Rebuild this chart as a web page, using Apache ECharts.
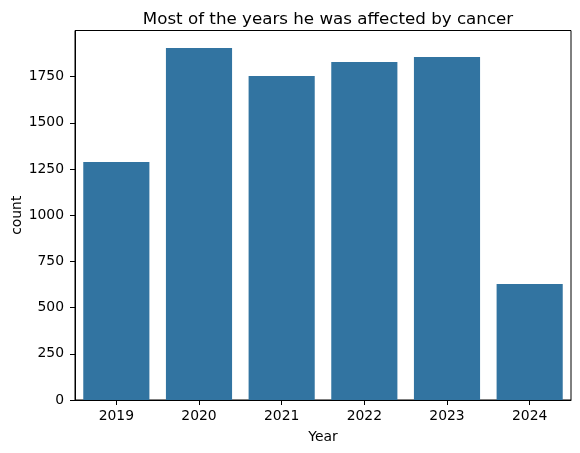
<!DOCTYPE html>
<html>
<head>
<meta charset="utf-8">
<script src="https://cdn.jsdelivr.net/npm/echarts@6/dist/echarts.min.js"></script>
<style>
  html, body { margin: 0; padding: 0; background: #fff; }
  #chart { width: 580px; height: 453px; }
</style>
</head>
<body>
<div id="chart"></div>
<script>
// 年份
const years = ['2019', '2020', '2021', '2022', '2023', '2024']
// 每年数量
const counts = [1288, 1905, 1754, 1829, 1856, 628]
// y轴刻度
const yTicks = [0, 250, 500, 750, 1000, 1250, 1500, 1750]

const chart = echarts.init(document.getElementById('chart'))
const font = 'DejaVu Sans'

const option = {
  animation: false,
  title: {
    text: 'Most of the years he was affected by cancer',
    left: 323,
    top: 6,
    textAlign: 'center',
    textStyle: { fontFamily: font, fontSize: 16.7, fontWeight: 'normal', color: '#000' }
  },
  grid: {
    left: 75,
    right: 9,
    top: 30.5,
    bottom: 53,
    outerBoundsMode: 'none',
    containLabel: false,
    show: true,
    borderColor: '#000',
    borderWidth: 1
  },
  xAxis: {
    type: 'category',
    data: years,
    name: 'Year',
    nameLocation: 'middle',
    nameGap: 30,
    nameMoveOverlap: false,
    nameTextStyle: { fontFamily: font, fontSize: 13.9, color: '#000' },
    axisLine: { show: true, lineStyle: { color: '#000', width: 1 } },
    axisTick: { show: true, alignWithLabel: true, length: 5, lineStyle: { color: '#000' } },
    axisLabel: { fontFamily: font, fontSize: 13.9, color: '#000', margin: 9 },
    splitLine: { show: false }
  },
  yAxis: {
    type: 'value',
    min: 0,
    max: 2000,
    interval: 250,
    name: 'count',
    nameLocation: 'middle',
    nameGap: 51,
    nameMoveOverlap: false,
    nameTextStyle: { fontFamily: font, fontSize: 13.9, color: '#000' },
    axisLine: { show: true, lineStyle: { color: '#000', width: 1 } },
    axisTick: { show: true, length: 5, lineStyle: { color: '#000' }, customValues: yTicks },
    axisLabel: {
      fontFamily: font,
      fontSize: 13.9,
      color: '#000',
      margin: 11,
      customValues: yTicks,
      formatter: v => String(v)
    },
    splitLine: { show: false }
  },
  series: [
    {
      type: 'bar',
      data: counts,
      barCategoryGap: '20%',
      itemStyle: { color: '#3274a1' }
    }
  ]
}
chart.setOption(option)
</script>
</body>
</html>
